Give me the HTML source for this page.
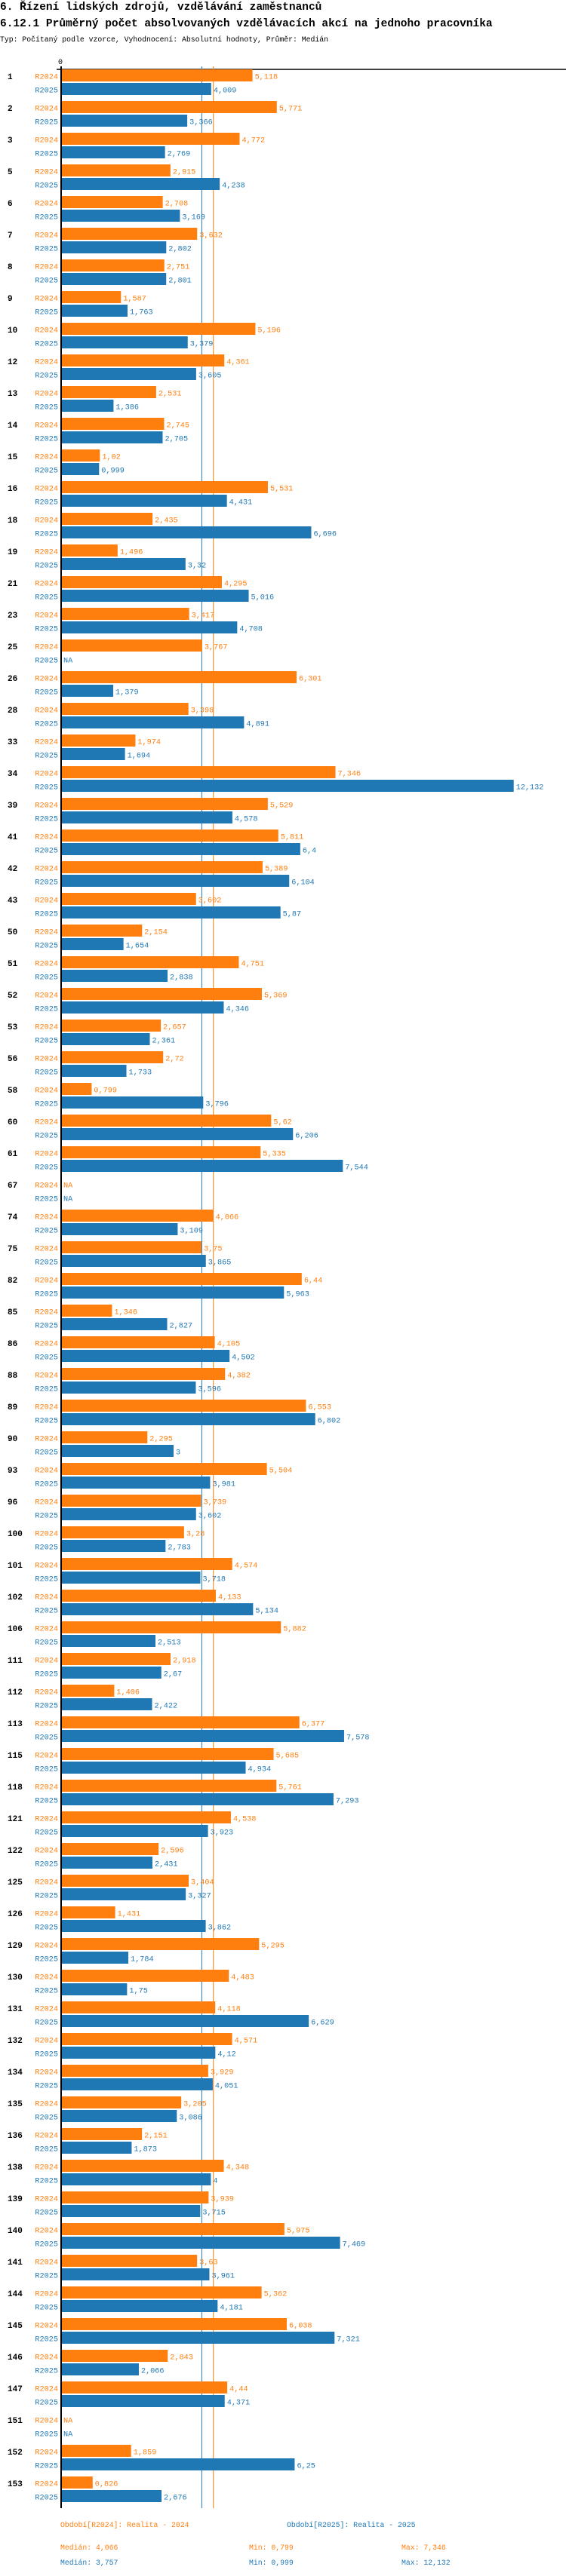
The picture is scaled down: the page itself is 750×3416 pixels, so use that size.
<!DOCTYPE html>
<html><head><meta charset="utf-8">
<style>
body{margin:0;background:#fff;width:750px;height:3416px;overflow:hidden;font-family:"Liberation Mono",monospace}
svg{display:block}
</style></head>
<body>
<svg id="chart" width="750" height="3416" xmlns="http://www.w3.org/2000/svg" font-family="Liberation Mono, DejaVu Sans Mono, monospace">
<text x="0" y="13" font-size="14.5" font-weight="bold">6. Řízení lidských zdrojů, vzdělávání zaměstnanců</text>
<text x="0" y="35" font-size="14.5" font-weight="bold">6.12.1 Průměrný počet absolvovaných vzdělávacích akcí na jednoho pracovníka</text>
<text x="0" y="55" font-size="9.8">Typ: Počítaný podle vzorce, Vyhodnocení: Absolutní hodnoty, Průměr: Medián</text>
<g id="plot"></g>
</svg>
<script>
const categories=["1","2","3","5","6","7","8","9","10","12","13","14","15","16","18","19","21","23","25","26","28","33","34","39","41","42","43","50","51","52","53","56","58","60","61","67","74","75","82","85","86","88","89","90","93","96","100","101","102","106","111","112","113","115","118","121","122","125","126","129","130","131","132","134","135","136","138","139","140","141","144","145","146","147","151","152","153"];
const values2024=[5.118,5.771,4.772,2.915,2.708,3.632,2.751,1.587,5.196,4.361,2.531,2.745,1.02,5.531,2.435,1.496,4.295,3.417,3.767,6.301,3.398,1.974,7.346,5.529,5.811,5.389,3.602,2.154,4.751,5.369,2.657,2.72,0.799,5.62,5.335,null,4.066,3.75,6.44,1.346,4.105,4.382,6.553,2.295,5.504,3.739,3.28,4.574,4.133,5.882,2.918,1.406,6.377,5.685,5.761,4.538,2.596,3.404,1.431,5.295,4.483,4.118,4.571,3.929,3.205,2.151,4.348,3.939,5.975,3.63,5.362,6.038,2.843,4.44,null,1.859,0.826];
const values2025=[4.009,3.366,2.769,4.238,3.169,2.802,2.801,1.763,3.379,3.605,1.386,2.705,0.999,4.431,6.696,3.32,5.016,4.708,null,1.379,4.891,1.694,12.132,4.578,6.4,6.104,5.87,1.654,2.838,4.346,2.361,1.733,3.796,6.206,7.544,null,3.109,3.865,5.963,2.827,4.502,3.596,6.802,3,3.981,3.602,2.783,3.718,5.134,2.513,2.67,2.422,7.578,4.934,7.293,3.923,2.431,3.327,3.862,1.784,1.75,6.629,4.12,4.051,3.086,1.873,4,3.715,7.469,3.961,4.181,7.321,2.066,4.371,null,6.25,2.676];
const median2024=4.066, median2025=3.757;
const seriesNames=["R2024","R2025"];

const ORANGE="#ff7f0e", BLUE="#1f77b4";
const x0=82, pxPerUnit=49.35, rowTop=101, pitch=42;
const xs=v=>x0+v*pxPerUnit;
const ys=i=>rowTop+i*pitch;
const NS="http://www.w3.org/2000/svg";
const g=document.getElementById('plot');
function mk(tag,attrs,txt){const e=document.createElementNS(NS,tag);for(const k in attrs)e.setAttribute(k,attrs[k]);if(txt!=null)e.textContent=txt;g.appendChild(e);return e;}
const fmt=v=>String(v).replace('.',',');
const lastY=ys(categories.length-1);

let e=mk('line',{x1:75,y1:92,x2:750,y2:92,stroke:'#000','stroke-width':1.5});


e=mk('text',{x:80,y:85,'font-size':10,'text-anchor':'middle'},'0');


e=mk('line',{x1:xs(median2025),y1:88,x2:xs(median2025),y2:lastY+33,stroke:BLUE,'stroke-width':1});


e=mk('line',{x1:xs(median2024),y1:88,x2:xs(median2024),y2:lastY+33,stroke:ORANGE,'stroke-width':1});



categories.forEach((c,i)=>{
  const y=ys(i);
  e=mk('text',{x:10,y:y+4,'font-size':11,'font-weight':'bold'},c);
  
  
  [[values2024[i],ORANGE,y,y-9,16,seriesNames[0]],[values2025[i],BLUE,y+18,y+9,16,seriesNames[1]]].forEach(([v,col,cy,top,h,name])=>{
    e=mk('text',{x:77,y:cy+3.5,'font-size':10.2,'text-anchor':'end',fill:col},name);
    
    
    if(v==null){
      e=mk('text',{x:84,y:cy+3.5,'font-size':10.2,fill:col},'NA');
      
      
      return;
    }
    e=mk('rect',{x:x0,y:top,width:xs(v)-x0,height:h,fill:col});
    
    
    e=mk('text',{x:xs(v)+3,y:cy+3.5,'font-size':10.2,fill:col},fmt(v));
    
    
  });
});
e=mk('line',{x1:81,y1:88,x2:81,y2:lastY+33,stroke:'#000','stroke-width':2});



const fy=lastY+58;
const foot=[[80,fy,ORANGE,'Období[R2024]: Realita - 2024','legend-r2024'],[380,fy,BLUE,'Období[R2025]: Realita - 2025','legend-r2025'],
[80,fy+30,ORANGE,'Medián: 4,066','median-r2024'],[330,fy+30,ORANGE,'Min: 0,799','min-r2024'],[532,fy+30,ORANGE,'Max: 7,346','max-r2024'],
[80,fy+50,BLUE,'Medián: 3,757','median-r2025'],[330,fy+50,BLUE,'Min: 0,999','min-r2025'],[532,fy+50,BLUE,'Max: 12,132','max-r2025']];
foot.forEach(([x,y,col,t,n])=>{
  e=mk('text',{x:x,y:y,'font-size':9.8,fill:col},t);
  
  
});
</script>
</body></html>
